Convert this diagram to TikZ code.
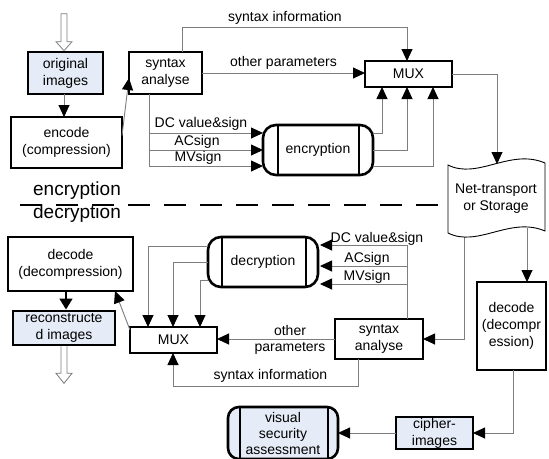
\documentclass[tikz,border=0pt]{standalone}
\usepackage{fontspec}
\setmainfont{Liberation Sans}
\usetikzlibrary{arrows.meta,calc}
\definecolor{boxblue}{RGB}{230,236,247}
\definecolor{linegray}{RGB}{125,125,125}
\begin{document}
\begin{tikzpicture}[x=1pt,y=-1pt,
  every node/.style={font=\fontsize{14}{17}\selectfont, align=center, inner sep=0pt, outer sep=0pt},
  box/.style={draw=black, line width=1.3pt, fill=white, rectangle},
  thickbox/.style={draw=black, line width=2.6pt, fill=boxblue, rectangle},
  procbox/.style={draw=black, line width=2.6pt, fill=white, rounded corners=13pt},
  inner/.style={draw=black, line width=2.2pt},
  conn/.style={draw=linegray, line width=0.9pt, -{Triangle[width=11pt,length=12pt,black]}},
  plain/.style={draw=linegray, line width=0.9pt},
  lbl/.style={font=\fontsize{14}{17}\selectfont},
  big/.style={font=\fontsize{19}{21}\selectfont},
  hollow/.style={draw=linegray, fill=white, line width=0.8pt},
  dashline/.style={draw=black, line width=1.3pt, dash pattern=on 22pt off 14pt},
]
\useasboundingbox (0,0) rectangle (549,458);

% ---------- nodes ----------
\node[thickbox, minimum width=75pt, minimum height=42pt] (orig) at (65.5,73) {original\\images};
\node[box, minimum width=111pt, minimum height=51pt] (encode) at (66.5,142.5) {encode\\(compression)};
\node[box, minimum width=73pt, minimum height=42pt] (syn1) at (165.5,73) {syntax\\analyse};
\node[box, minimum width=87pt, minimum height=26pt] (mux1) at (408.5,74) {MUX};
\node[procbox, minimum width=110pt, minimum height=50pt] (enc) at (318,150) {encryption};
\node[procbox, minimum width=110pt, minimum height=50pt] (dec) at (263,262) {decryption};
\node[procbox, fill=boxblue, rounded corners=11pt, minimum width=110pt, minimum height=52pt] (vsa) at (283,433) {visual\\[-1pt]security\\[-1pt]assessment};
\node[box, minimum width=69pt, minimum height=88pt] (dec2) at (511.5,326) {decode\\(decompr\\ession)};
\node[thickbox, minimum width=77pt, minimum height=32pt] (cipher) at (434.5,433) {cipher-\\images};
\node[box, minimum width=88pt, minimum height=40pt] (syn2) at (379,339) {syntax\\analyse};
\node[box, minimum width=87pt, minimum height=26pt] (mux2) at (173.5,340) {MUX};
\node[box, minimum width=125pt, minimum height=54pt] (dec1) at (70.5,264) {decode\\(decompression)};
\node[thickbox, minimum width=102pt, minimum height=34pt] (recon) at (64,328) {reconstructe\\d images};

% inner vertical lines of process boxes
\draw[inner] ([xshift=15pt]enc.north west) -- ([xshift=15pt]enc.south west);
\draw[inner] ([xshift=-14pt]enc.north east) -- ([xshift=-14pt]enc.south east);
\draw[inner] ([xshift=14pt]dec.north west) -- ([xshift=14pt]dec.south west);
\draw[inner] ([xshift=-12pt]dec.north east) -- ([xshift=-12pt]dec.south east);
\draw[inner] ([xshift=12pt]vsa.north west) -- ([xshift=12pt]vsa.south west);
\draw[inner] ([xshift=-10pt]vsa.north east) -- ([xshift=-10pt]vsa.south east);

% ---------- coordinates ----------
\coordinate (netTop) at (497,164);
\coordinate (netW) at (448,199);
\coordinate (netB1) at (464,236);
\coordinate (netB2) at (527,228);
\coordinate (dashL) at (20,205);
\coordinate (bx) at ([xshift=-16.5pt]syn1.south);
\coordinate (e1) at ([yshift=17pt]enc.west);
\coordinate (e2) at (enc.west);
\coordinate (e3) at ([yshift=-16pt]enc.west);
\coordinate (sx) at ([xshift=28pt]syn2.north);
\coordinate (d1) at ([xshift=2pt,yshift=17pt]dec.east);
\coordinate (d2) at ([xshift=2pt,yshift=-4pt]dec.east);
\coordinate (d3) at ([xshift=2pt,yshift=-22pt]dec.east);

% ---------- hollow arrows ----------
\draw[hollow] (orig.north) ++(-1.5,-1.3) -- ++(-8,-9) -- ++(5,0) -- ++(0,-28) -- ++(6,0) -- ++(0,28) -- ++(5,0) -- cycle;
\draw[hollow] ([xshift=-3pt,yshift=-1.3pt]recon.south) -- ++(0,27) -- ++(-5,0) -- ++(8,10) -- ++(8,-10) -- ++(-5,0) -- ++(0,-27);

% ---------- encryption side ----------
\draw[conn] (orig.south) ++(-1.5,0) -- ++(0,23);
\draw[conn] ([yshift=7pt]encode.east) -- ([yshift=-5pt]syn1.west);
\draw[conn] ([xshift=16.5pt]syn1.north) -- ++(0,-25) -| ([xshift=-1.5pt]mux1.north);
\node[lbl] (lsi1) at (285,18) {syntax information};
\draw[conn] (syn1.east) -- (syn1.east -| mux1.west);
\node[lbl] (lop1) at (283.5,63) {other parameters};

\draw[plain] (bx) -- (bx |- e3);
\draw[conn] (bx |- e1) -- (e1);
\draw[conn] (bx |- e2) -- (e2);
\draw[conn] (bx |- e3) -- (e3);
\node[lbl] (ldc1) at (201,124) {DC value\&sign};
\node[lbl] (lac1) at (197,142) {ACsign};
\node[lbl] (lmv1) at (198,158) {MVsign};

\draw[conn] ([yshift=17pt]enc.east) -| ([xshift=-26.5pt]mux1.south);
\draw[conn] (enc.east) -| ([xshift=-1.5pt]mux1.south);
\draw[conn] ([yshift=-16pt]enc.east) -| ([xshift=24.5pt]mux1.south);

\draw[conn] (mux1.east) -| (netTop);

% dashed separator
\draw[dashline] (dashL) -- (dashL -| netW);
\node[big] (lenc) at (77,191) {encryption};
\node[big] (ldec) at (77,214) {decryption};

% ---------- decryption side ----------
\draw[conn] (netB1) |- (syn2.east);
\draw[conn] (netB2) -- (netB2 |- dec2.north);
\draw[conn] ([xshift=1.5pt]dec2.south) |- (cipher.east);
\draw[conn] (cipher.west) -- (cipher.west -| vsa.east);

\draw[plain] (sx) -- (sx |- d1);
\draw[conn] (sx |- d1) -- (d1);
\draw[conn] (sx |- d2) -- (d2);
\draw[conn] (sx |- d3) -- (d3);
\node[lbl] (ldc2) at (377,239) {DC value\&sign};
\node[lbl] (lac2) at (367,259) {ACsign};
\node[lbl] (lmv2) at (367,277) {MVsign};

\draw[conn] ([yshift=16pt]dec.west) -| ([xshift=-25.5pt]mux2.north);
\draw[conn] (dec.west) -| ([xshift=-0.5pt]mux2.north);
\draw[conn] ([yshift=-18pt]dec.west) -| ([xshift=26.5pt]mux2.north);

\draw[conn] (syn2.west) -- (syn2.west -| mux2.east);
\node[lbl] (loth2) at (290,330) {other};
\node[lbl] (lpar2) at (290,348) {parameters};

\draw[conn] ([xshift=-21pt]syn2.south) -- ++(0,27) -| ([xshift=-0.5pt]mux2.south);
\node[lbl] (lsi2) at (270.5,376) {syntax information};

\draw[conn] ([yshift=10pt]mux2.west) -- ([xshift=44.5pt]dec1.south);
\draw[draw=black, line width=1.8pt, -{Triangle[width=13pt,length=11pt]}] ([xshift=-4.5pt]dec1.south) -- ([xshift=-4.5pt,yshift=1.5pt]dec1.south |- recon.north);

% ---------- Net-transport / Storage (tape shape) ----------
\draw[draw=black, line width=0.9pt, fill=white]
  (448,165) .. controls (478,180) and (510,148) .. (545,163)
  -- (545,231) .. controls (510,216) and (478,248) .. (448,233) -- cycle;
\node (net) at (496,199) {Net-transport\\or Storage};
\end{tikzpicture}
\end{document}
